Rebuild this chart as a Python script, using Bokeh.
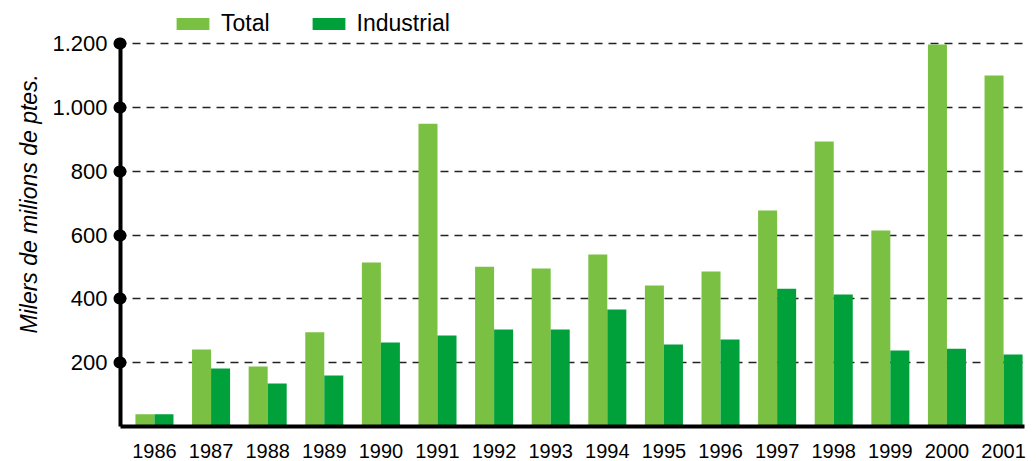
from bokeh.plotting import figure
from bokeh.models import (ColumnDataSource, FixedTicker, Range1d, Legend, LegendItem,
                          Title, BasicTickFormatter)
from bokeh.transform import dodge
from bokeh.embed import file_html
from bokeh.resources import INLINE

# ---- data ----
years = [1986, 1987, 1988, 1989, 1990, 1991, 1992, 1993,
         1994, 1995, 1996, 1997, 1998, 1999, 2000, 2001]
total = [38, 241, 188, 295, 514, 949, 501, 495, 539, 442, 486, 677, 893, 614, 1197, 1100]
industrial = [38, 182, 135, 160, 263, 285, 304, 304, 367, 257, 273, 432, 414, 238, 244, 226]
series_names = ["Total", "Industrial"]
y_ticks = [200, 400, 600, 800, 1000, 1200]
y_tick_labels = ["200", "400", "600", "800", "1.000", "1.200"]
y_title = "Milers de milions de ptes."

LIGHT = "#7AC143"
DARK = "#00A13A"
FONT = "Liberation Sans"

src = ColumnDataSource(dict(year=years, total=total, industrial=industrial))

p = figure(width=1036, height=461, output_backend="svg", toolbar_location=None,
           x_range=Range1d(1985.4, 2001.37), y_range=Range1d(0, 1335),
           min_border_left=120, min_border_right=12, min_border_top=0, min_border_bottom=35)
p.outline_line_color = None
p.background_fill_color = "white"

bw = 0.336
r1 = p.vbar(x=dodge("year", -bw / 2, range=p.x_range), top="total", width=bw,
            source=src, fill_color=LIGHT, line_color=None)
r2 = p.vbar(x=dodge("year", bw / 2, range=p.x_range), top="industrial", width=bw,
            source=src, fill_color=DARK, line_color=None)

# x axis
xa = p.xaxis[0]
xa.ticker = FixedTicker(ticks=years)
xa.formatter = BasicTickFormatter(use_scientific=False)
xa.axis_line_width = 4
xa.axis_line_color = "black"
xa.major_tick_line_color = None
xa.major_tick_in = 0
xa.major_tick_out = 0
xa.minor_tick_line_color = None
xa.major_label_text_font = FONT
xa.major_label_text_font_size = "20px"
xa.major_label_text_color = "black"
xa.major_label_standoff = 17

# y axis with round dots as ticks
ya = p.yaxis[0]
ya.ticker = FixedTicker(ticks=y_ticks)
ya.major_label_overrides = {t: l for t, l in zip(y_ticks, y_tick_labels)}
ya.bounds = (0, 1200)
ya.axis_line_width = 4
ya.axis_line_color = "black"
ya.major_tick_line_width = 12
ya.major_tick_line_cap = "round"
ya.major_tick_line_color = "black"
ya.major_tick_in = 0
ya.major_tick_out = 1
ya.minor_tick_line_color = None
ya.major_label_text_font = FONT
ya.major_label_text_font_size = "22px"
ya.major_label_text_color = "black"
ya.major_label_standoff = 12

p.xgrid.grid_line_color = None
p.ygrid.ticker = FixedTicker(ticks=y_ticks)
p.ygrid.grid_line_color = "#222222"
p.ygrid.grid_line_width = 1.6
p.ygrid.grid_line_dash = "8 6"
p.ygrid.grid_line_dash_offset = 2

t = Title(text=y_title, align="left", offset=93, standoff=16, text_font=FONT,
          text_font_style="italic", text_font_size="23px", text_color="black")
p.add_layout(t, "left")

legend = Legend(items=[LegendItem(label=series_names[0], renderers=[r1]),
                       LegendItem(label=series_names[1], renderers=[r2])],
                orientation="horizontal", location=(52, 389),
                glyph_width=41, glyph_height=15, label_standoff=8, spacing=38,
                padding=0, margin=0, border_line_color=None,
                background_fill_alpha=0, label_text_font=FONT,
                label_text_font_size="23px", label_text_color="black")
p.add_layout(legend, "center")

open("out.html", "w").write(file_html(p, INLINE))
